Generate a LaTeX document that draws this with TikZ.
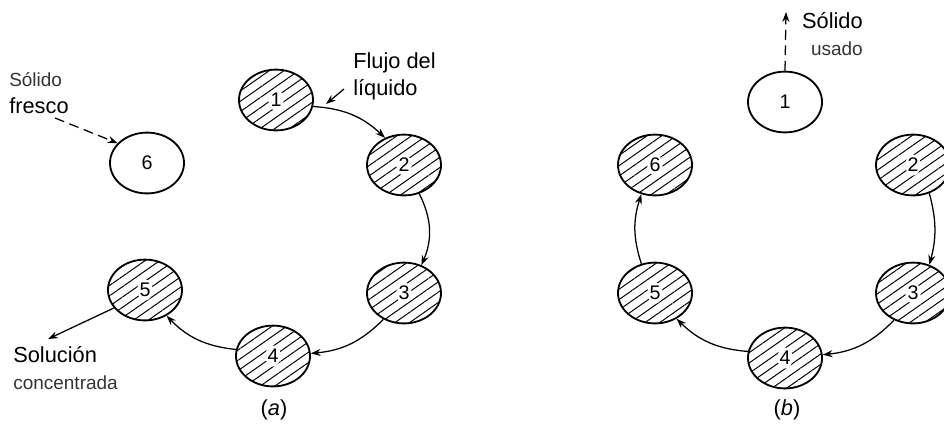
\documentclass[tikz,border=0pt]{standalone}
\usepackage{fontspec}
\setmainfont{Liberation Sans}
\usetikzlibrary{arrows.meta,shapes.geometric,patterns.meta}
\newcommand\bigfont{\fontsize{15.5}{18.5}\selectfont}
\newcommand\notefont{\fontsize{13.5}{18.5}\selectfont}

\begin{document}
\begin{tikzpicture}[
x=0.025cm,y=-0.025cm,
vessel/.style={draw,ellipse,line width=1.3pt,minimum width=1.85cm,minimum height=1.52cm,inner sep=0pt,font=\fontsize{14}{16}\selectfont},
loaded/.style={vessel,pattern={Lines[angle=35,distance=6pt,line width=0.7pt]},path picture={\fill[white] (path picture bounding box.center) ellipse (5.5pt and 7.5pt);}},
flow/.style={-{Stealth[length=7pt,width=5pt]},line width=0.9pt},
feed/.style={flow,dash pattern=on 7pt off 4pt},
tag/.style={inner sep=0pt},
]
\useasboundingbox (0,0) rectangle (944,424);
% panel (a)
\node[loaded] (a1) at (276,100) {1};
\node[loaded] (a2) at (404,165) {2};
\node[loaded] (a3) at (404,293) {3};
\node[loaded] (a4) at (273,356) {4};
\node[loaded] (a5) at (145,290) {5};
\node[vessel] (a6) at (147,163) {6};
\node[tag,align=left,anchor=north west,font=\notefont] (fresh) at (9,72) {\textcolor{black!80}{Sólido}\\[1pt]{\bigfont fresco}};
\node[tag,align=left,anchor=north west,font=\bigfont] (liquid) at (353,52) {Flujo del\\[1pt]líquido};
\node[tag,align=left,anchor=north west,font=\bigfont] (product) at (13,346) {Solución\\[1pt]{\notefont\color{black!80}concentrada}};
\node[font=\bigfont] (capa) at (274,410) {(\textit{a})};
\coordinate (freshtail) at (55,118);
\coordinate (liquidtail) at (344,89);
\coordinate (liquidtip) at (326,104);
\coordinate (producttip) at (48,339);
\draw[feed] (freshtail) -- (a6.146);
\draw[flow] (liquidtail) -- (liquidtip);
\draw[flow] (a1.-10) to[bend left=20] (a2.125);
\draw[flow] (a2.-62) to[bend left=25] (a3.58);
\draw[flow] (a3.-128) to[bend left=20] (a4.4);
\draw[flow] (a4.170) to[bend left=20] (a5.-50);
\draw[flow] (a5.-150) -- (producttip);
% panel (b)
\node[vessel] (b1) at (785,102) {1};
\node[loaded] (b2) at (913,165) {2};
\node[loaded] (b3) at (913,293) {3};
\node[loaded] (b4) at (785,358) {4};
\node[loaded] (b5) at (655,293) {5};
\node[loaded] (b6) at (655,165) {6};
\node[tag,align=right,anchor=north east,font=\bigfont] (spent) at (863,12) {Sólido\\[1pt]{\notefont\color{black!80}usado}};
\node[font=\bigfont] (capb) at (787,410) {(\textit{b})};
\coordinate (spenttip) at (786,12);
\draw[feed] (b1.north) -- (spenttip);
\draw[flow] (b2.-60) to[bend left=15] (b3.60);
\draw[flow] (b3.-125) to[bend left=20] (b4.5);
\draw[flow] (b4.170) to[bend left=20] (b5.-50);
\draw[flow] (b5.115) to[bend left=18] (b6.-115);
\end{tikzpicture}
\end{document}
